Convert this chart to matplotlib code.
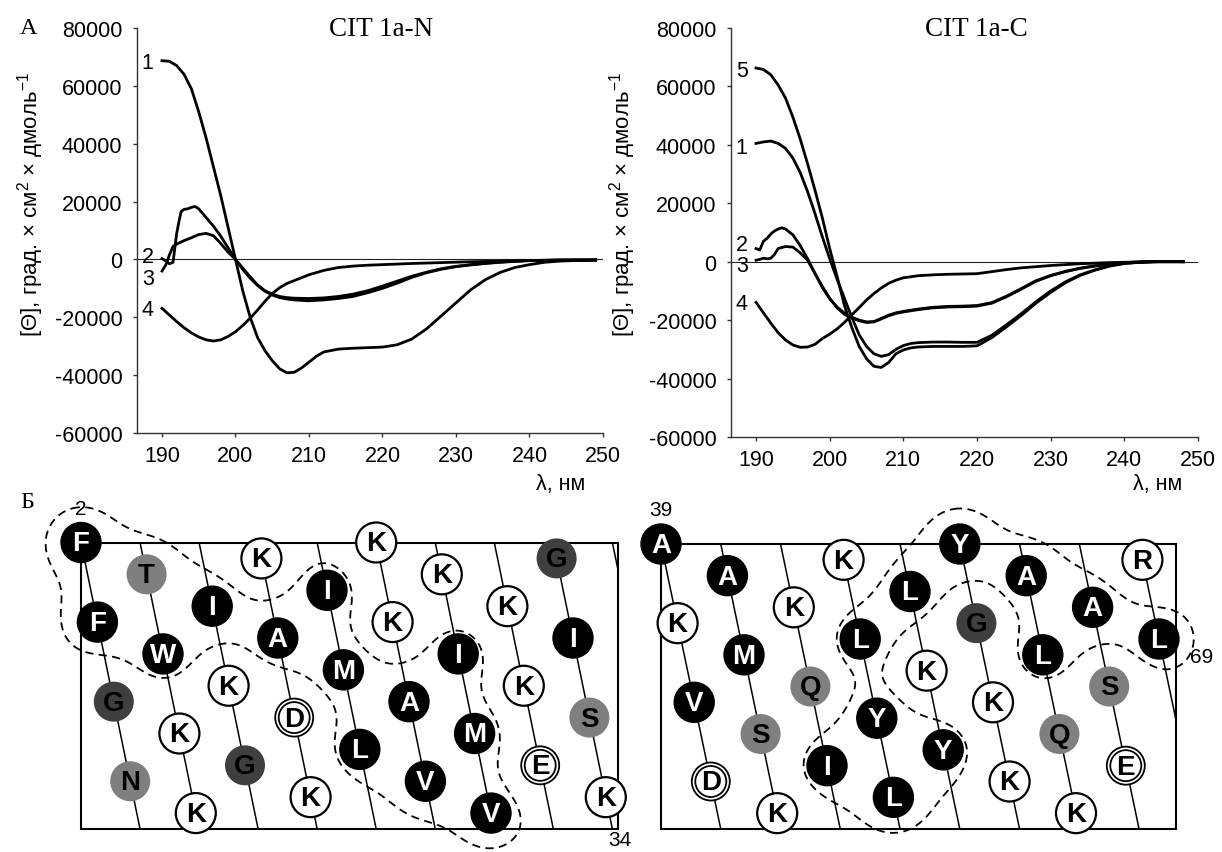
import numpy as np
import matplotlib.pyplot as plt
from matplotlib.patches import Circle, Rectangle
from matplotlib.ticker import FuncFormatter

plt.rcParams['font.family'] = ['Liberation Sans', 'DejaVu Sans']
plt.rcParams['axes.unicode_minus'] = False
plt.rcParams['mathtext.fontset'] = 'custom'
plt.rcParams['mathtext.rm'] = 'Liberation Sans'
plt.rcParams['mathtext.it'] = 'Liberation Sans:italic'
plt.rcParams['lines.dashed_pattern'] = [4.5, 3.0]

# ---- CD spectra, values in thousands of deg*cm2/dmol ----
# CIT 1a-N
n1_x = [190, 191, 192, 193, 194, 195, 196, 197, 198, 199, 200, 201, 202, 203, 204, 205, 206, 207, 208, 209,
        210, 211, 212, 214, 216, 218, 220, 222, 224, 226, 228, 230, 232, 234, 236, 238, 240, 242, 244, 246, 249]
n1_y = [68.7, 68.5, 67, 64, 59, 51, 42, 32, 22, 11, 0, -11, -20, -27, -31.5, -35, -37.8, -39.2, -39, -37.5,
        -35.5, -33.5, -32, -31, -30.7, -30.5, -30.3, -29.5, -27.5, -24, -19.5, -15, -10.5, -7, -4.5, -2.8,
        -1.8, -1, -0.6, -0.4, -0.3]
n2_x = [190, 190.5, 191, 191.5, 191.8, 192, 192.3, 192.6, 193, 193.5, 194, 194.5, 195, 195.5, 196, 197, 198,
        199, 200, 201, 202, 203, 204, 205, 206, 207, 208, 210, 212, 214, 216, 218, 220, 222, 224, 226, 228,
        230, 232, 234, 236, 238, 240, 244, 249]
n2_y = [0.3, -0.5, -1.5, -1, 5, 9, 13, 16.5, 17.3, 17.5, 18, 18.3, 17.5, 16, 14.5, 11.5, 8, 4, 0, -3.5, -6.5,
        -9, -11, -12.3, -13.2, -13.7, -14, -14.3, -14, -13.5, -12.8, -11.5, -10, -8.2, -6.2, -4.6, -3.4, -2.5,
        -1.9, -1.4, -1, -0.7, -0.4, -0.2, -0.2]
n3_x = [190, 190.5, 191, 191.5, 192, 193, 194, 195, 196, 197, 198, 199, 200, 201, 202, 203, 204, 205, 206,
        207, 208, 210, 212, 214, 216, 218, 220, 222, 224, 226, 228, 230, 232, 234, 236, 238, 240, 244, 249]
n3_y = [-4, -2, 1.5, 4.5, 5.3, 6.5, 7.5, 8.6, 9, 8.2, 5.5, 2.5, 0, -3, -6, -8.8, -10.8, -12, -12.8, -13.2,
        -13.4, -13.5, -13.3, -12.8, -12, -10.8, -9.2, -7.5, -5.8, -4.4, -3.2, -2.4, -1.8, -1.3, -0.9, -0.6,
        -0.4, -0.2, -0.1]
n4_x = [190, 191, 192, 193, 194, 195, 196, 197, 198, 199, 200, 201, 202, 203, 204, 205, 206, 207, 208, 209,
        210, 212, 214, 216, 218, 220, 224, 228, 232, 236, 240, 244, 249]
n4_y = [-16.9, -19.2, -21.5, -23.6, -25.4, -26.8, -27.8, -28.2, -27.8, -26.6, -25, -22.8, -20.3, -17.5, -14.5,
        -11.8, -9.8, -8.3, -7.3, -6.3, -5.3, -3.8, -2.8, -2.3, -2, -1.8, -1.4, -1.1, -0.8, -0.6, -0.4, -0.3,
        -0.2]

# CIT 1a-C
c_x = [190, 191, 192, 193, 194, 195, 196, 197, 198, 199, 200, 201, 202, 203, 204, 205, 206, 207, 208, 209,
       210, 211, 212, 214, 216, 218, 220, 222, 224, 226, 228, 230, 232, 234, 236, 238, 240, 242, 244, 246, 248]
c5_y = [66.3, 65.8, 64, 60.5, 56, 49.5, 42, 33.5, 24.5, 15, 4.5, -5, -15, -22.5, -29, -33.2, -35.8, -36.2,
        -34.5, -31.5, -30.2, -29.5, -29.2, -29, -29, -29, -28.8, -26, -22.3, -18.4, -14.2, -10.5, -7.2, -4.7,
        -2.9, -1.5, -0.6, -0.2, 0, 0.1, 0]
c1_y = [40.5, 41, 41.3, 40.5, 38.8, 35.5, 30.5, 24, 16.5, 8.5, 1, -6, -12.5, -19, -25, -29, -31.5, -32.4,
        -31.8, -30, -28.7, -28, -27.7, -27.5, -27.5, -27.6, -27.6, -25.2, -21.6, -17.8, -13.7, -10, -6.9,
        -4.5, -2.8, -1.4, -0.6, -0.2, 0, 0.1, 0]
c2_x = [190, 190.5, 191, 191.5, 192, 192.5, 193, 193.5, 194, 195, 196, 197, 198, 199, 200, 201, 202, 203,
        204, 205, 206, 207, 208, 209, 210, 212, 214, 216, 218, 220, 222, 224, 226, 228, 230, 232, 234, 236,
        238, 240, 242, 244, 248]
c2_y = [4.5, 4, 7, 8, 9.5, 10.5, 11.2, 11.6, 11.2, 9.2, 5.5, 1, -4, -8.8, -12.7, -15.5, -17.6, -19, -20,
        -20.6, -20.5, -19.4, -18.3, -17.5, -17, -16.2, -15.6, -15.3, -15.2, -15, -14, -11.8, -9.2, -6.5,
        -4.7, -3.3, -2.2, -1.4, -0.8, -0.3, -0.1, 0, 0]
c3_x = [190, 190.5, 191, 191.5, 192, 192.5, 193, 194, 195, 196, 197, 198, 199, 200, 201, 202, 203, 204,
        205, 206, 207, 208, 209, 210, 212, 214, 216, 218, 220, 222, 224, 226, 228, 230, 232, 234, 236, 238,
        240, 242, 244, 248]
c3_y = [0.5, 0.8, 1.2, 1, 1.2, 2.5, 4.5, 5.2, 5, 3, 0.5, -4, -8.5, -12.5, -15.8, -18, -19.3, -20.2, -20.8,
        -20.6, -19.6, -18.5, -17.7, -17.2, -16.4, -15.8, -15.5, -15.4, -15.2, -14.2, -12, -9.4, -6.7, -4.8,
        -3.4, -2.3, -1.5, -0.8, -0.3, -0.1, 0, 0]
c4_x = [190, 191, 192, 193, 194, 195, 196, 197, 198, 199, 200, 201, 202, 203, 204, 205, 206, 207, 208, 209,
        210, 212, 214, 216, 218, 220, 222, 224, 226, 228, 230, 234, 238, 240, 244, 248]
c4_y = [-13.9, -17.5, -21, -24.3, -26.8, -28.5, -29.3, -29.2, -28.3, -26.3, -24.8, -23, -20.8, -18.2, -15.7,
        -13.1, -10.9, -9, -7.4, -6.3, -5.5, -4.8, -4.5, -4.3, -4.2, -4.1, -3.4, -2.7, -2.1, -1.7, -1.3, -0.7,
        -0.3, -0.2, 0, 0]

left_curves = [('1', n1_x, n1_y), ('2', n2_x, n2_y), ('3', n3_x, n3_y), ('4', n4_x, n4_y)]
right_curves = [('5', c_x, c5_y), ('1', c_x, c1_y), ('2', c2_x, c2_y), ('3', c3_x, c3_y), ('4', c4_x, c4_y)]
left_lbl_dy = [-1, 1.5, -5.5, -1]
right_lbl_dy = [-2, -3, 2.6, -4, -1]

# ---- helical nets ----
seq_n = "FFGNTWKKIKGKADKIMLKKAVKIMVKKEGISK"   # residues 2-34
seq_c = "AKVDAMSKKQIKLYLLKYYGKKALQKASERL"     # residues 39-69
hyd_n = [0, 1, 4, 5, 8, 12, 15, 16, 17, 20, 21, 23, 24, 25]
hyd_c = [10, 12, 13, 14, 15, 17, 18, 22, 23, 26, 30]

W, H = 1222, 853
fx = lambda x: x / W
fy = lambda y: 1 - y / H

fig = plt.figure(figsize=(12.22, 8.53), dpi=100)

yfmt = FuncFormatter(lambda v, p: '%d' % v)


def cd_axes(box, title, tx, curves, dys, lam_x, ylab_x):
    l, t, r, b = box
    ax = fig.add_axes([fx(l), fy(b), (r - l) / W, (b - t) / H])
    ax.set_xlim(186.6, 250)
    ax.set_ylim(-60000, 80000)
    ax.set_xticks(range(190, 251, 10))
    ax.set_yticks(range(-60000, 80001, 20000))
    ax.yaxis.set_major_formatter(yfmt)
    for s in ['top', 'right']:
        ax.spines[s].set_visible(False)
    for s in ['left', 'bottom']:
        ax.spines[s].set_color('#333333')
        ax.spines[s].set_linewidth(1.0)
    ax.tick_params(axis='both', direction='out', length=3, width=1.0, colors='#333333',
                   labelcolor='black', labelsize=15.5)
    ax.tick_params(axis='y', pad=7.5)
    ax.tick_params(axis='x', pad=6)
    ax.axhline(0, color='#222222', lw=0.8, zorder=1)
    for (lab, xs, ys), dy in zip(curves, dys):
        yv = np.array(ys) * 1000
        ax.plot(xs, yv, color='black', lw=2.0, zorder=3)
        ax.annotate(lab, xy=(xs[0], yv[0]), xytext=(-6, dy), textcoords='offset points',
                    ha='right', va='center', fontsize=15.5)
    fig.text(fx(tx), fy(29), title, family='Liberation Serif', fontsize=19.5, ha='center', va='center')
    fig.text(fx(lam_x), fy(485), 'λ, нм', fontsize=15.5, ha='right', va='center')
    fig.text(fx(ylab_x), fy(205), '[Θ], град. × см$^{2}$ × дмоль$^{-1}$', rotation=90,
             fontsize=16, ha='center', va='center')
    return ax


cd_axes((137, 29, 603, 434), 'CIT 1a-N', 381, left_curves, left_lbl_dy, 585, 31)
cd_axes((731, 29, 1198, 438), 'CIT 1a-C', 976, right_curves, right_lbl_dy, 1182, 623)

fig.text(fx(29), fy(29), 'А', family='Liberation Serif', fontsize=17.5, ha='center', va='center')
fig.text(fx(27), fy(502), 'Б', family='Liberation Serif', fontsize=17.5, ha='center', va='center')

# net axes in pixel coordinates
axn = fig.add_axes([0, 0, 1, (H - 480) / H])
axn.set_xlim(0, W)
axn.set_ylim(H, 480)
axn.axis('off')

hydrophobic = "FIWAMLVY"
polar = "TNSQ"
acidic = "DE"


def draw_net(seq, hyd, x0, top, height, step, right, gx_range):
    n = len(seq)
    ang = (np.arange(n) * 100) % 360
    px = x0 + np.arange(n) * step
    py = top + ang / 360 * height
    rect = Rectangle((x0, top), right - x0, height, fill=False, lw=1.5, ec='black', zorder=2)
    axn.add_patch(rect)
    turn = 3.6 * step
    for t in range(int(np.ceil((n - 1) / 3.6)) + 1):
        xa = x0 + t * turn
        if xa >= right:
            break
        ln, = axn.plot([xa, xa + turn], [top, top + height], color='black', lw=1.1, zorder=2)
        ln.set_clip_path(rect)
    # dashed outline round the hydrophobic cluster
    gx, gy = np.meshgrid(np.arange(gx_range[0], gx_range[1], 2.0), np.arange(480, H, 2.0))
    field = np.zeros_like(gx)
    s = 42.0
    for k in range(n):
        w = 1.0 if k in hyd else -0.6
        field += w * np.exp(-((gx - px[k]) ** 2 + (gy - py[k]) ** 2) / s ** 2)
    axn.contour(gx, gy, field, levels=[0.5], colors='black', linewidths=1.3,
                linestyles='dashed', zorder=2.5)
    for k, aa in enumerate(seq):
        x, y = px[k], py[k]
        if aa in hydrophobic:
            axn.add_patch(Circle((x, y), 20, fc='black', ec='black', lw=1, zorder=4))
            tc = 'white'
        elif aa in polar:
            axn.add_patch(Circle((x, y), 20, fc='#7f7f7f', ec='none', zorder=4))
            tc = 'black'
        elif aa == 'G':
            axn.add_patch(Circle((x, y), 20, fc='#3f3f3f', ec='none', zorder=4))
            tc = 'black'
        elif aa in acidic:
            axn.add_patch(Circle((x, y), 19, fc='white', ec='black', lw=1.3, zorder=4))
            axn.add_patch(Circle((x, y), 15.5, fc='white', ec='black', lw=1.3, zorder=4))
            tc = 'black'
        else:
            axn.add_patch(Circle((x, y), 20, fc='white', ec='black', lw=1.6, zorder=4))
            tc = 'black'
        axn.text(x, y + 1, aa, color=tc, fontsize=20, fontweight='bold', ha='center', va='center',
                 zorder=5)
    return px, py


px, py = draw_net(seq_n, hyd_n, 81, 543.5, 286.5, 16.4, 618, (0, 650))
axn.text(px[0], py[0] - 34, '2', fontsize=15, ha='center', va='center')
axn.text(620, 841, '34', fontsize=15, ha='center', va='center')

px, py = draw_net(seq_c, hyd_c, 661, 545, 285, 16.6, 1176, (630, W))
axn.text(px[0], py[0] - 35, '39', fontsize=15, ha='center', va='center')
axn.text(px[-1] + 43, py[-1] + 18, '69', fontsize=15, ha='center', va='center')

fig.savefig('out.png', dpi=100)
